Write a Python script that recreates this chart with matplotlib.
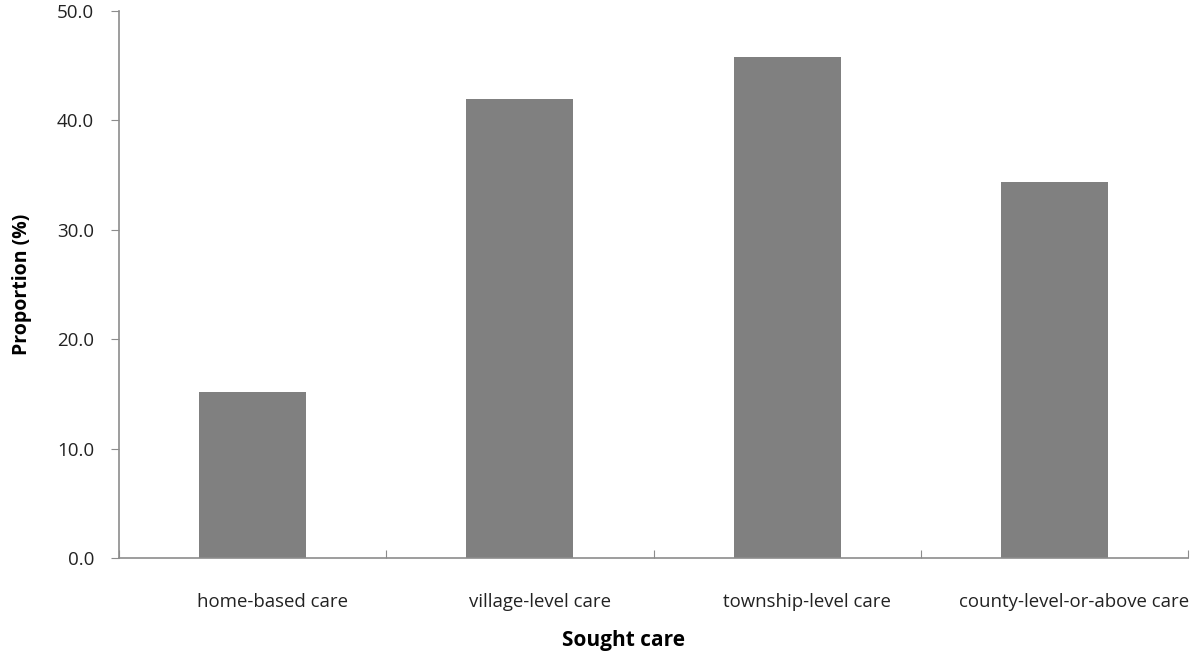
import matplotlib
matplotlib.use("Agg")
import matplotlib.pyplot as plt
import matplotlib.transforms as mtransforms
import numpy as np

categories = ["home-based care", "village-level care", "township-level care", "county-level-or-above care"]
values = [15.2, 42.0, 45.8, 34.4]
yticks = [0, 10, 20, 30, 40, 50]
ytick_labels = ["0.0", "10.0", "20.0", "30.0", "40.0", "50.0"]

plt.rcParams['font.family'] = ['Open Sans', 'DejaVu Sans']

fig = plt.figure(figsize=(12, 6.54), dpi=100)
ax = fig.add_axes([0.0992, 0.1468, 0.8908, 0.8364])

x = np.arange(len(categories))
ax.bar(x, values, width=0.4, color="#808080", edgecolor="none", zorder=2)

ax.set_xlim(-0.5, len(categories) - 0.5)
ax.set_ylim(0, 50)
ax.set_yticks(yticks)
ax.set_yticklabels(ytick_labels, fontsize=13.5, color="#222222")

# category labels, ticks at boundaries
ax.set_xticks(np.arange(-0.5, len(categories)), minor=False)
ax.set_xticklabels([""] * (len(categories) + 1))
ax.set_xticks(x, minor=True)
ax.set_xticklabels(categories, minor=True, fontsize=13.4, color="#222222")
ax.tick_params(axis="x", which="minor", length=0, pad=25)
ax.tick_params(axis="x", which="major", direction="in", length=6, color="#8c8c8c")
ax.tick_params(axis="y", direction="out", length=6, color="#8c8c8c", pad=12)

shift = mtransforms.ScaledTranslation(0.2, 0, fig.dpi_scale_trans)
for lbl in ax.get_xticklabels(minor=True):
    lbl.set_transform(lbl.get_transform() + shift)

for s in ["top", "right"]:
    ax.spines[s].set_visible(False)
for s in ["left", "bottom"]:
    ax.spines[s].set_color("#8c8c8c")
    ax.spines[s].set_linewidth(1.2)

ax.set_xlabel("Sought care", fontsize=15, fontweight="bold")
ax.set_ylabel("Proportion (%)", fontsize=14, fontweight="bold")
ax.xaxis.set_label_coords(0.472, -0.131)
ax.yaxis.set_label_coords(-0.081, 0.5)

fig.savefig("out.png", dpi=100)
